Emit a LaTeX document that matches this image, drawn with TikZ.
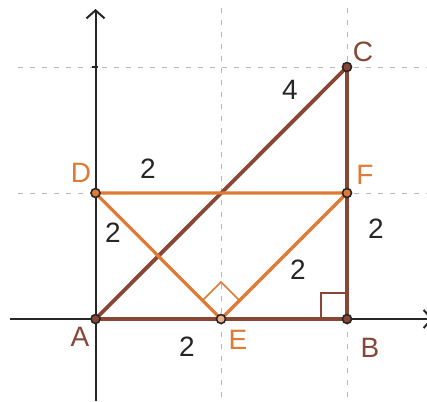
\documentclass[tikz,border=0pt]{standalone}
\usepackage{fontspec}
\setmainfont{Liberation Sans}
\usetikzlibrary{arrows.meta,calc}
\definecolor{brn}{RGB}{136,70,52}
\definecolor{org}{RGB}{222,122,52}
\definecolor{grd}{RGB}{185,185,185}
\begin{document}
\begin{tikzpicture}[x=1pt,y=-1pt,
  grid/.style={grd,line width=0.9pt,dash pattern=on 5pt off 7pt},
  axis/.style={black!85,line width=2pt},
  bline/.style={brn,line width=3.8pt},
  oline/.style={org,line width=3.2pt},
  pt/.style={circle,draw=black!85,line width=1.6pt,inner sep=0pt,minimum size=9pt},
  lab/.style={font=\fontsize{28}{30}\selectfont,inner sep=0pt},
  num/.style={lab,text=black!85}]
\useasboundingbox (0,0) rectangle (427,401);
\fill[white] (0,0) rectangle (427,401);
% grid
\draw[grid] (18,67) -- (427,67);
\draw[grid] (18,193) -- (427,193);
\draw[grid] (221,8) -- (221,401);
\draw[grid] (347,8) -- (347,401);
% axes
\coordinate (xs) at (10,319);
\coordinate (xe) at (433,319);
\coordinate (ys) at (95.5,401);
\coordinate (ye) at (95.5,9);
\draw[axis,-{Straight Barb[length=8pt,width=18pt]}] (xs) -- (xe);
\draw[axis,-{Straight Barb[length=8pt,width=18pt]}] (ys) -- (ye);
\draw[axis,line width=2.5pt] (92,67) -- (98,67);
% points
\coordinate (A) at (95.5,319);
\coordinate (E) at (221,319);
\coordinate (B) at (347,319);
\coordinate (D) at (95.5,193);
\coordinate (F) at (347,193);
\coordinate (C) at (347,67);
% right angle marks
\draw[brn,line width=1.6pt] (321,319) -- (321,293) -- (347,293);
\draw[org,line width=1.6pt] ($(E)+(-18.5,-18.5)$) -- ($(E)+(0,-37)$) -- ($(E)+(18.5,-18.5)$);
% brown triangle
\draw[bline,line join=round] (A) -- (C) -- (B) -- cycle;
% orange
\draw[oline,line join=round] (D) -- (F) -- (E) -- cycle;
\draw[bline] (A) -- (E);
% point markers
\node[pt,fill=brn] (pA) at (A) {};
\node[pt,fill=brn] (pB) at (B) {};
\node[pt,fill=brn] (pC) at (C) {};
\node[pt,fill=org] (pD) at (D) {};
\node[pt,fill=org] (pF) at (F) {};
\node[pt,fill=org!60] (pE) at (E) {};
% labels
\node[lab,text=brn] (lA) at (80,337) {A};
\node[lab,text=brn] (lB) at (370,348) {B};
\node[lab,text=brn] (lC) at (363,52) {C};
\node[lab,text=org] (lD) at (81,173) {D};
\node[lab,text=org] (lE) at (238,340) {E};
\node[lab,text=org] (lF) at (365,175) {F};
\node[num] (n1) at (148,169) {2};
\node[num] (n2) at (113,233) {2};
\node[num] (n3) at (290,90) {4};
\node[num] (n4) at (376,229) {2};
\node[num] (n5) at (298,270) {2};
\node[num] (n6) at (187,347) {2};
\end{tikzpicture}
\end{document}
